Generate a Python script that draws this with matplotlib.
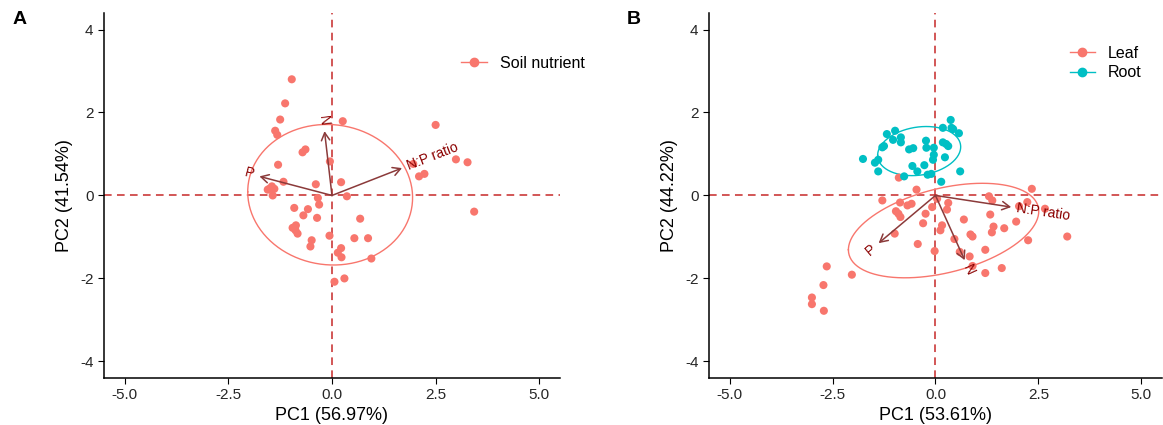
import numpy as np
import matplotlib
matplotlib.use("Agg")
import matplotlib.pyplot as plt
from matplotlib.lines import Line2D

plt.rcParams['font.family'] = ['Liberation Sans', 'DejaVu Sans']
plt.rcParams['axes.unicode_minus'] = False

# ---- data ----
# Panel A: soil nutrient PCA scores
soil_pc1 = [-0.97, -1.13, -1.25, -1.37, -1.32, 0.26, 2.50, -0.71, -0.64, -1.30,
            -0.05, 1.96, 2.99, 3.27, 2.10, 2.23, -1.17, -0.39, 0.22, -1.51,
            -1.45, -1.39, -1.55, -1.43, 0.36, -0.34, -0.31, -0.91, -0.58, -0.69,
            -0.36, 0.68, -0.95, -0.87, -0.88, -0.83, -0.06, 0.54, 0.87, -0.49,
            -0.52, 0.22, 0.14, 0.23, 0.95, 0.30, 0.06, 3.43]
soil_pc2 = [2.80, 2.22, 1.83, 1.56, 1.46, 1.79, 1.70, 1.04, 1.11, 0.74,
            0.82, 0.76, 0.87, 0.80, 0.46, 0.52, 0.33, 0.27, 0.32, 0.16,
            0.22, 0.16, 0.14, 0.00, -0.02, -0.06, -0.22, -0.30, -0.33, -0.48,
            -0.54, -0.56, -0.78, -0.72, -0.84, -0.92, -0.97, -1.03, -1.03, -1.08,
            -1.23, -1.27, -1.38, -1.49, -1.52, -2.00, -2.08, -0.39]
soil_vars = ['N', 'P', 'N:P ratio']
soil_load1 = [-0.18, -1.75, 1.69]
soil_load2 = [1.55, 0.46, 0.66]

# Panel B: leaf and root PCA scores
leaf_pc1 = [-0.89, -0.46, 2.34, -1.29, -0.86, -0.68, -0.58, -0.96, -0.90, -0.85,
            -0.24, -0.08, 0.04, 0.31, 0.28, -0.30, 0.16, 0.12, -0.99, -0.43,
            -0.02, 0.46, 0.69, 0.59, 0.83, 0.85, 0.90, 0.90, 1.21, 1.21,
            1.61, 1.30, 1.38, 1.33, 1.41, 1.37, 1.67, 1.96, 2.03, 2.25,
            2.66, 3.20, -2.03, -2.64, -2.72, -3.00, -3.00, -2.71, 2.23]
leaf_pc2 = [0.43, 0.14, 0.16, -0.12, -0.17, -0.24, -0.20, -0.38, -0.44, -0.52,
            -0.44, -0.28, -0.08, -0.18, -0.34, -0.67, -0.72, -0.84, -0.92, -1.17,
            -1.34, -1.05, -0.58, -1.36, -1.47, -0.94, -0.99, -1.70, -1.31, -1.87,
            -1.75, -0.02, -0.12, -0.46, -0.75, -0.89, -0.79, -0.63, -0.26, -1.08,
            -0.32, -0.99, -1.91, -1.71, -2.16, -2.46, -2.62, -2.78, -0.16]
root_pc1 = [-1.76, -1.47, -1.39, -1.39, -1.29, -1.25, -1.18, -0.98, -1.03, -0.84,
            -0.84, -0.64, -0.54, -0.56, -0.44, -0.76, -0.27, -0.23, -0.22, -0.19,
            -0.04, -0.04, -0.06, -0.10, 0.14, 0.18, 0.18, 0.26, 0.31, 0.23,
            0.37, 0.39, 0.57, 0.60, 0.43]
root_pc2 = [0.88, 0.79, 0.86, 0.58, 1.16, 1.19, 1.48, 1.56, 1.34, 1.40,
            1.28, 1.11, 1.14, 0.71, 0.58, 0.46, 0.73, 1.32, 1.15, 0.50,
            1.15, 0.98, 0.86, 0.52, 0.33, 1.63, 1.28, 1.24, 1.19, 0.92,
            1.82, 1.63, 1.50, 0.58, 1.60]
plant_vars = ['N', 'P', 'N:P ratio']
plant_load1 = [0.71, -1.38, 1.84]
plant_load2 = [-1.56, -1.15, -0.28]

red = '#F8766D'
teal = '#00BFC4'
line_red = '#C62828'
arrow_col = '#8B3A3A'
text_col = '#8B0000'


# 68% normal ellipse, as ggbiplot draws it
def ellipse_xy(x, y, prob=0.68):
    x = np.asarray(x)
    y = np.asarray(y)
    sigma = np.cov(np.vstack([x, y]))
    mu = np.array([x.mean(), y.mean()])
    ed = np.sqrt(-2 * np.log(1 - prob))
    t = np.linspace(-np.pi, np.pi, 200)
    circle = np.column_stack([np.cos(t), np.sin(t)])
    ell = circle @ np.linalg.cholesky(sigma).T * ed + mu
    return ell[:, 0], ell[:, 1]


def draw_biplot(ax, groups, vars_, l1, l2, xlabel, ylabel, leg_anchor):
    ax.axhline(0, color=line_red, lw=1.1, dashes=(5, 3.5), zorder=1)
    ax.axvline(0, color=line_red, lw=1.1, dashes=(5, 3.5), zorder=1)
    for x, y, col, name in groups:
        ax.scatter(x, y, s=34, color=col, edgecolors='none', zorder=3)
        ex, ey = ellipse_xy(x, y)
        ax.plot(ex, ey, color=col, lw=1.0, zorder=2)
    for name, vx, vy in zip(vars_, l1, l2):
        ax.annotate('', xy=(vx, vy), xytext=(0, 0),
                    arrowprops=dict(arrowstyle='->,head_length=0.55,head_width=0.3',
                                    color=arrow_col, lw=1.1, shrinkA=0, shrinkB=0),
                    zorder=4)
        ang = np.degrees(np.arctan(vy / vx))
        s = np.sign(vx)
        off = 4 * s
        ax.annotate(name, xy=(vx, vy),
                    xytext=(off * np.cos(np.radians(ang)), off * np.sin(np.radians(ang))),
                    textcoords='offset points', rotation=ang, rotation_mode='anchor',
                    ha='left' if s > 0 else 'right', va='center',
                    color=text_col, fontsize=10, zorder=5)
    ax.set_xlim(-5.5, 5.5)
    ax.set_ylim(-4.4, 4.4)
    ax.set_xticks([-5, -2.5, 0, 2.5, 5])
    ax.set_xticklabels(['-5.0', '-2.5', '0.0', '2.5', '5.0'])
    ax.set_yticks([-4, -2, 0, 2, 4])
    ax.set_xlabel(xlabel, fontsize=13, color='black', labelpad=3)
    ax.set_ylabel(ylabel, fontsize=13, color='black', labelpad=5)
    ax.tick_params(labelsize=11, labelcolor='#262626', length=4, width=0.8)
    for side in ['top', 'right']:
        ax.spines[side].set_visible(False)
    for side in ['left', 'bottom']:
        ax.spines[side].set_linewidth(1.1)
    handles = [Line2D([0], [0], color=col, marker='o', markersize=6, lw=1.0, label=name)
               for _, _, col, name in groups]
    ax.legend(handles=handles, loc='upper left', bbox_to_anchor=leg_anchor,
              frameon=False, fontsize=11.5, handlelength=1.6, handletextpad=0.8,
              labelspacing=0.3, borderaxespad=0)


fig = plt.figure(figsize=(11.63, 4.25), dpi=100)
ax1 = fig.add_axes([0.0894, 0.1106, 0.3921, 0.859])
ax2 = fig.add_axes([0.6096, 0.1106, 0.3895, 0.859])

draw_biplot(ax1, [(soil_pc1, soil_pc2, red, 'Soil nutrient')],
            soil_vars, soil_load1, soil_load2, 'PC1 (56.97%)', 'PC2 (41.54%)',
            (0.77, 0.90))
draw_biplot(ax2, [(leaf_pc1, leaf_pc2, red, 'Leaf'), (root_pc1, root_pc2, teal, 'Root')],
            plant_vars, plant_load1, plant_load2, 'PC1 (53.61%)', 'PC2 (44.22%)',
            (0.782, 0.928))

fig.text(0.011, 0.953, 'A', fontsize=14, fontweight='bold', va='center')
fig.text(0.539, 0.953, 'B', fontsize=14, fontweight='bold', va='center')

fig.savefig('out.png', dpi=100)
